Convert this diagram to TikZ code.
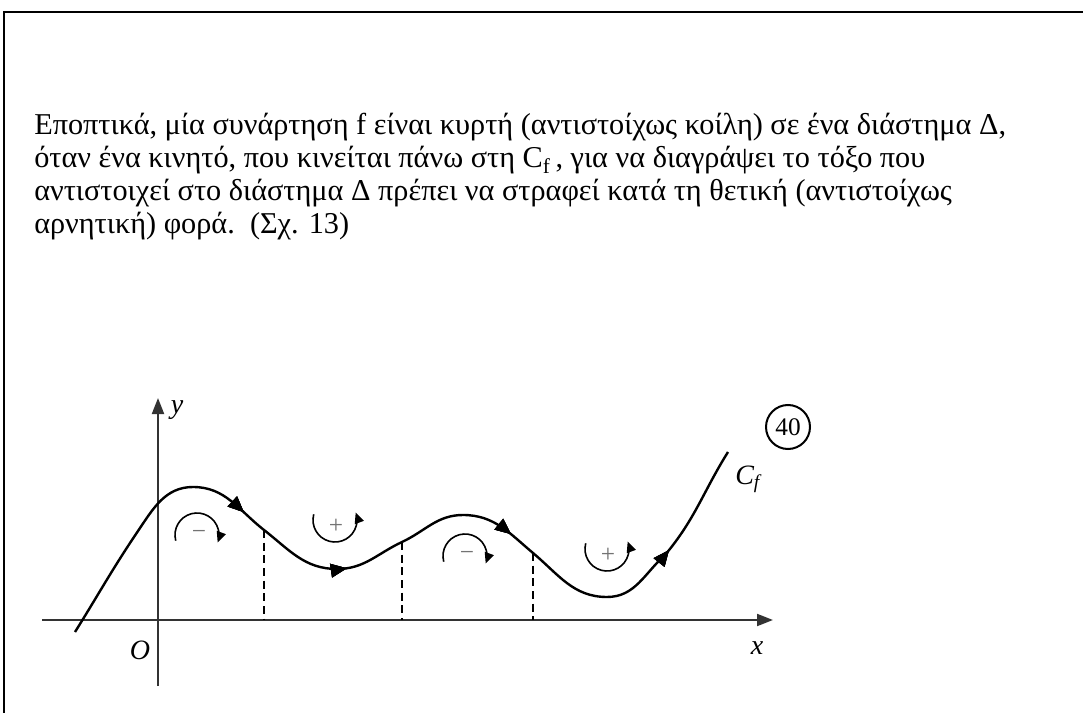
\documentclass[tikz,border=0pt]{standalone}
\usepackage{fontspec}
\setmainfont{Liberation Serif}
\usetikzlibrary{arrows.meta,decorations.markings}

\tikzset{
  txt/.style={anchor=base west, inner sep=0pt, font=\fontsize{22.7}{24}\selectfont},
  lbl/.style={inner sep=0pt, font=\fontsize{21}{21}\selectfont\itshape},
  sgn/.style={inner sep=0pt, text=black!55, font=\fontsize{19}{19}\selectfont},
  axis/.style={line width=1.5pt, black!80, -{Triangle[length=12pt,width=9pt]}},
  rot/.style={line width=1.2pt, -{Triangle[length=8pt,width=7pt]}},
  tip/.style={decoration={markings,
      mark=at position #1 with {\arrow{Triangle[length=12pt,width=10pt]}}},
    postaction={decorate}},
}

\begin{document}
\begin{tikzpicture}[x=0.75pt, y=-0.75pt]
\useasboundingbox (0,0) rectangle (1083,713);
% frame
\draw[line width=1.9pt] (1090,12) -| (4,720);
% text
\node[txt] (l1) at (34,135) {Εποπτικά, μία συνάρτηση f είναι κυρτή (αντιστοίχως κοίλη) σε ένα διάστημα Δ,};
\node[txt] (l2) at (34,168) {όταν ένα κινητό, που κινείται πάνω στη C\textsubscript{f}\,, για να διαγράψει το τόξο που};
\node[txt] (l3) at (34,201) {αντιστοιχεί στο διάστημα Δ πρέπει να στραφεί κατά τη θετική (αντιστοίχως};
\node[txt] (l4) at (34,234) {αρνητική) φορά.\ \ (Σχ. 13)};
% axes
\coordinate (xs) at (42,620);
\coordinate (xe) at (773,620);
\coordinate (ys) at (158,686);
\coordinate (ye) at (158,398);
\draw[axis] (xs) -- (xe);
\draw[axis] (ys) -- (ye);
\node[lbl] (ylab) at (177,410) {y};
\node[lbl] (olab) at (140,650) {O};
\node[lbl] (xlab) at (757,648) {x};
% the graph C_f
\draw[line width=1.8pt, tip=0.29, tip=0.43, tip=0.64, tip=0.868]
  (75,632) to[out=58,in=236] (138,531) to[out=56,in=180] (193,487)
  to[out=0,in=142] (264,530) to[out=-38,in=180] (337,569)
  to[out=0,in=205] (402,542) to[out=25,in=180] (463,515)
  to[out=0,in=140] (533,553) to[out=-40,in=180] (607,597)
  to[out=0,in=222] (665,555) to[out=50,in=238] (728,452);
\node[lbl, anchor=west] (cf) at (735,479) {C\textsubscript{f}};
\node[draw, circle, line width=1.5pt, minimum size=33pt, inner sep=0pt,
  font=\fontsize{19}{19}\selectfont] (num) at (788,427) {40};
% dashed lines
\foreach \x/\y in {264/530, 402/542, 533/553}
  \draw[line width=0.9pt, dash pattern=on 6pt off 3.5pt] (\x,\y) -- (\x,620);
% turning signs
\foreach \cx/\cy in {197/535, 465/556} {
  \draw[rot] (\cx,\cy) ++(165:22) arc[start angle=165, end angle=380, radius=22];
  \node[sgn] at (\cx+2,\cy) {−};
}
\foreach \cx/\cy in {335/520, 607/549} {
  \draw[rot] (\cx,\cy) ++(195:22) arc[start angle=195, end angle=-20, radius=22];
  \node[sgn] at (\cx+1,\cy+6) {+};
}
\end{tikzpicture}
\end{document}
